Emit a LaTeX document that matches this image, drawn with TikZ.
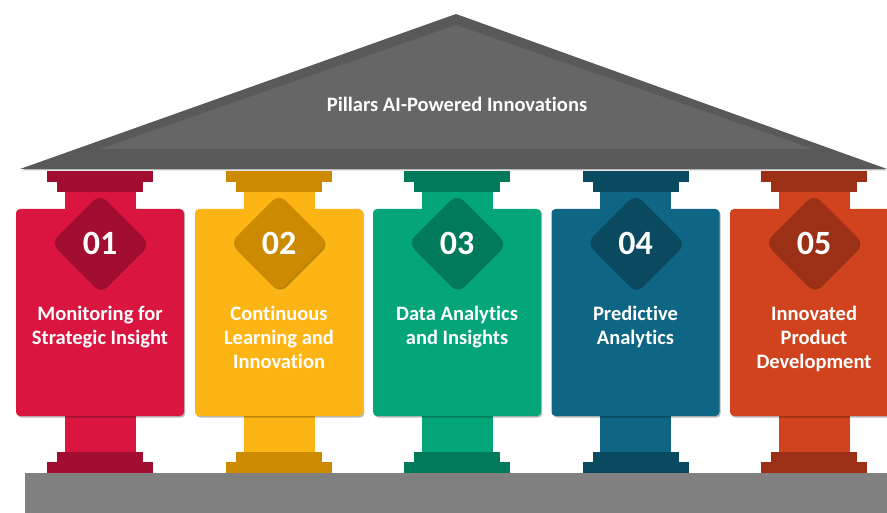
\documentclass[tikz,border=0pt]{standalone}
\usepackage{fontspec}
\setmainfont[Ligatures=NoCommon]{Carlito}
\usetikzlibrary{shadows}
\definecolor{roofdark}{HTML}{595959}
\definecolor{roofin}{HTML}{666666}
\definecolor{basegray}{HTML}{808080}
\definecolor{pA}{HTML}{D91540}\definecolor{pAd}{HTML}{A20E31}
\definecolor{pB}{HTML}{FDB515}\definecolor{pBd}{HTML}{CC8A00}
\definecolor{pC}{HTML}{05A57A}\definecolor{pCd}{HTML}{007A5A}
\definecolor{pD}{HTML}{0E6584}\definecolor{pDd}{HTML}{0A4A61}
\definecolor{pE}{HTML}{D1431E}\definecolor{pEd}{HTML}{9C3017}
\tikzset{
  softshadow/.style={drop shadow={shadow xshift=1.2pt,shadow yshift=-1.5pt,opacity=0.28,fill=black}},
  cardbox/.style={rounded corners=4pt,softshadow},
  diamondbox/.style={rotate=45,minimum size=69pt,rounded corners=9pt,inner sep=0pt,softshadow},
  numtext/.style={text=white,font=\fontsize{34}{36}\selectfont\bfseries,inner sep=0pt},
  labeltext/.style={text=white,font=\fontsize{20.5}{24.2}\selectfont\bfseries,align=center,inner sep=0pt,anchor=north},
}
\begin{document}
\begin{tikzpicture}[x=1pt,y=-1pt]
\useasboundingbox (0,0) rectangle (887,513);
% roof
\fill[roofdark,softshadow] (20,169) -- (456,14) -- (887,169) -- cycle;
\fill[roofin] (100,149) -- (456,25) -- (813,149) -- cycle;
\node[text=white,font=\fontsize{20.5}{24}\selectfont\bfseries] (title) at (457,104) {Pillars AI-Powered Innovations};
% pillars
\foreach \i/\cx/\mc/\dc/\num/\txt in {
  1/100/pA/pAd/01/{Monitoring for\\Strategic Insight},
  2/279/pB/pBd/02/{Continuous\\Learning and\\Innovation},
  3/457/pC/pCd/03/{Data Analytics\\and Insights},
  4/635.5/pD/pDd/04/{Predictive\\Analytics},
  5/814/pE/pEd/05/{Innovated\\Product\\Development}}{
  \fill[\dc] (\cx-53,171) rectangle (\cx+53,182);
  \fill[\dc] (\cx-43,182) rectangle (\cx+43,192);
  \fill[\mc] (\cx-35.5,192) rectangle (\cx+35.5,452);
  \fill[\dc] (\cx-43,452) rectangle (\cx+43,462);
  \fill[\dc] (\cx-53,462) rectangle (\cx+53,473);
  \fill[\mc,cardbox] (\cx-84,209) rectangle (\cx+84,416);
  \node[fill=\dc,diamondbox] (dia\i) at (\cx,243) {};
  \node[numtext] (num\i) at (dia\i.center) {\num};
  \node[labeltext] (lab\i) at (\cx,305.5) {\txt};
}
% base
\fill[basegray,softshadow] (25,473) rectangle (890,516);
\end{tikzpicture}
\end{document}
